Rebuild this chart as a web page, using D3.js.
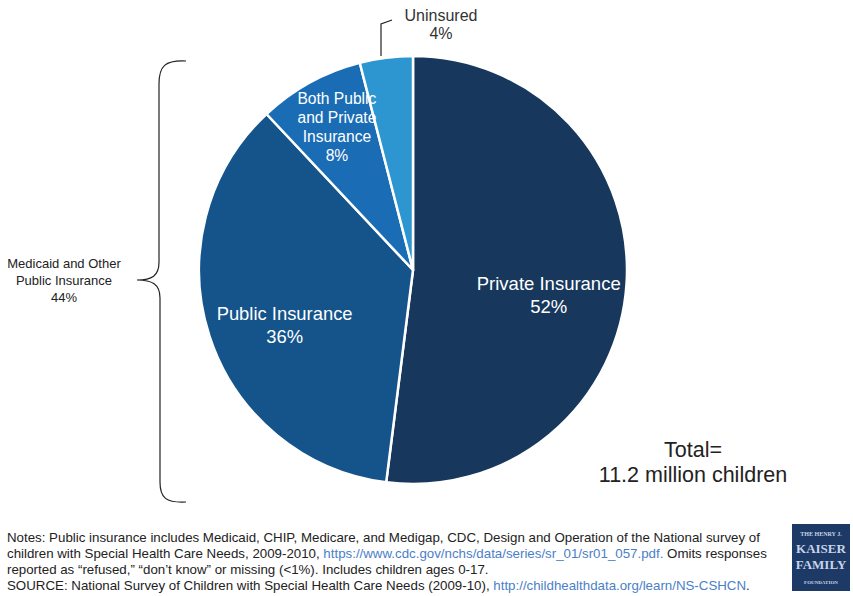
<!DOCTYPE html>
<html>
<head>
<meta charset="utf-8">
<script src="https://cdn.jsdelivr.net/npm/d3@7"></script>
<style>
  body { margin: 0; background: #fff; }
  svg { display: block; font-family: "Liberation Sans", Arial, sans-serif; }
</style>
</head>
<body>
<svg id="chart" width="853" height="596"></svg>
<script>
// ---- data ----
const categories = ["Private Insurance", "Public Insurance", "Both Public and Private Insurance", "Uninsured"];
const values = [52, 36, 8, 4];
const colors = ["#17385c", "#15548b", "#1a6db5", "#2d96d1"];
const labelLines = [
  ["Private Insurance", "52%"],
  ["Public Insurance", "36%"],
  ["Both Public", "and Private", "Insurance", "8%"],
  ["Uninsured", "4%"]
];
const braceLabel = ["Medicaid and Other", "Public Insurance", "44%"];
const totalLabel = ["Total=", "11.2 million children"];

// ---- layout ----
const svg = d3.select("#chart");
const cx = 413, cy = 270, R = 214;

const pie = d3.pie().sort(null).value(d => d.value).startAngle(0).endAngle(2 * Math.PI);
const data = categories.map((c, i) => ({ name: c, value: values[i], color: colors[i], lines: labelLines[i] }));
const arcs = pie(data);
const arc = d3.arc().innerRadius(0).outerRadius(R);

const g = svg.append("g").attr("transform", `translate(${cx},${cy})`);
g.selectAll("path.slice").data(arcs).enter().append("path")
  .attr("class", "slice")
  .attr("d", arc)
  .attr("fill", d => d.data.color)
  .attr("stroke", "#fff")
  .attr("stroke-width", 2.5)
  .attr("stroke-linejoin", "round");

// in-slice labels
const labelCfg = [
  { r: 136, size: 18.5, lh: 23, dy: 23 },
  { r: 135, size: 18.4, lh: 23, dy: 20 },
  { r: 158, size: 15.6, lh: 19, dy: 1 }
];
arcs.slice(0, 3).forEach((a, i) => {
  const cfg = labelCfg[i];
  const [x, y] = d3.arc().innerRadius(cfg.r).outerRadius(cfg.r).centroid(a);
  const n = a.data.lines.length;
  const t = g.append("text")
    .attr("text-anchor", "middle")
    .attr("fill", "#fff")
    .attr("font-size", cfg.size);
  a.data.lines.forEach((line, k) => {
    t.append("tspan")
      .attr("x", x)
      .attr("y", y + cfg.dy + (k - (n - 1) / 2) * cfg.lh)
      .text(line);
  });
});

// Uninsured label outside with leader line
svg.append("path")
  .attr("d", "M392,20 L381,24 L381,56")
  .attr("fill", "none").attr("stroke", "#222").attr("stroke-width", 1.2);
const tu = svg.append("text").attr("text-anchor", "middle").attr("fill", "#333").attr("font-size", 16);
labelLines[3].forEach((line, k) => {
  tu.append("tspan").attr("x", 441).attr("y", 21 + k * 18).text(line);
});

// curly brace
svg.append("path")
  .attr("d", "M186,61 C165,60 159,66 159,84 L159,262 C159,276 152,280 137,280 C152,280 160,284 160,298 L160,482 C160,498 166,503 186,502")
  .attr("fill", "none").attr("stroke", "#222").attr("stroke-width", 1.2);
const tb = svg.append("text").attr("text-anchor", "middle").attr("fill", "#222").attr("font-size", 13);
braceLabel.forEach((line, k) => {
  tb.append("tspan").attr("x", 64).attr("y", 268 + k * 17).text(line);
});

// total
const tt = svg.append("text").attr("text-anchor", "middle").attr("fill", "#222").attr("font-size", 21.5);
totalLabel.forEach((line, k) => {
  tt.append("tspan").attr("x", 693).attr("y", 457 + k * 25).text(line);
});

// footer notes
const foot = svg.append("text").attr("fill", "#222").attr("font-size", 13.3);
const linkC = "#4a80c8";
const footLines = [
  [["Notes: Public insurance includes Medicaid, CHIP, Medicare, and Medigap, CDC, Design and Operation of the National survey of", null]],
  [["children with Special Health Care Needs, 2009-2010, ", null], ["https://www.cdc.gov/nchs/data/series/sr_01/sr01_057.pdf.", linkC], [" Omits responses", null]],
  [["reported as \u201crefused,\u201d \u201cdon\u2019t know\u201d or missing (<1%). Includes children ages 0-17.", null]],
  [["SOURCE: National Survey of Children with Special Health Care Needs (2009-10), ", null], ["http://childhealthdata.org/learn/NS-CSHCN", linkC], [".", null]]
];
footLines.forEach((parts, k) => {
  parts.forEach((p, j) => {
    const ts = foot.append("tspan").text(p[0]);
    if (j === 0) ts.attr("x", 7).attr("y", 542 + k * 16);
    if (p[1]) ts.attr("fill", p[1]);
  });
});

// logo
const logo = svg.append("g").attr("transform", "translate(792,524)");
logo.append("rect").attr("width", 58).attr("height", 67).attr("fill", "#1d3a66");
const logoText = [["THE HENRY J.", 6, 12], ["KAISER", 13, 29], ["FAMILY", 13, 45], ["FOUNDATION", 5, 60]];
logoText.forEach(([t, s, y]) => {
  logo.append("text").attr("x", 29).attr("y", y).attr("text-anchor", "middle")
    .attr("font-family", "Liberation Serif, serif").attr("font-size", s)
    .attr("font-weight", "bold").attr("fill", "#c9d3e6").text(t);
});
</script>
</body>
</html>
